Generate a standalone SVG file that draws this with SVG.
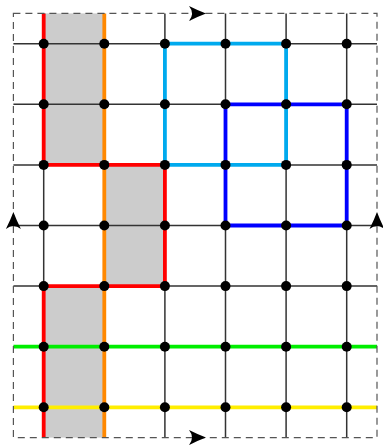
<svg xmlns="http://www.w3.org/2000/svg" width="383" height="445" viewBox="0 0 383 445">
<style>
.grid{stroke:#333;stroke-width:1.5;fill:none}
.c{fill:none;stroke-width:3.8;stroke-linecap:butt;stroke-linejoin:miter}
.dot{fill:#000}
.fill{fill:#cccccc;stroke:none}
.border{fill:none;stroke:#555;stroke-width:1.2;stroke-dasharray:7,5}
.arr{fill:#000}
</style>
<defs>
<path id="ah" d="M1,0 Q-7,-3 -16,-7.5 Q-10,0 -16,7.5 Q-7,3 1,0 Z"/>
<circle id="d" r="5"/>
</defs>
<g id="regions">
<rect class="fill" x="43.7" y="13.4" width="60.6" height="151.5"/>
<rect class="fill" x="104.3" y="164.9" width="60.6" height="121.2"/>
<rect class="fill" x="43.7" y="286.1" width="60.6" height="151.5"/>
</g>
<g id="connectors">
<g class="grid">
<path d="M13.4,43.7H377M13.4,104.3H377M13.4,164.9H377M13.4,225.5H377M13.4,286.1H377M13.4,346.7H377M13.4,407.3H377"/>
<path d="M43.7,13.4V437.6M104.3,13.4V437.6M164.9,13.4V437.6M225.5,13.4V437.6M286.1,13.4V437.6M346.7,13.4V437.6"/>
</g>
<path class="c" stroke="#ff8800" d="M104.3,13.4V437.6"/>
<path class="c" stroke="#ff0000" d="M43.7,13.4V164.9H164.9V286.1H43.7V437.6"/>
<path class="c" stroke="#00aaee" d="M164.9,43.7H286.1V164.9H164.9Z"/>
<path class="c" stroke="#0000ff" d="M225.5,104.3H346.7V225.5H225.5Z"/>
<path class="c" stroke="#00ee00" d="M13.4,346.7H377"/>
<path class="c" stroke="#ffee00" d="M13.4,407.3H377"/>
</g>
<g id="nodes" class="dot">
<use href="#d" x="43.7" y="43.7"/><use href="#d" x="104.3" y="43.7"/><use href="#d" x="164.9" y="43.7"/><use href="#d" x="225.5" y="43.7"/><use href="#d" x="286.1" y="43.7"/><use href="#d" x="346.7" y="43.7"/>
<use href="#d" x="43.7" y="104.3"/><use href="#d" x="104.3" y="104.3"/><use href="#d" x="164.9" y="104.3"/><use href="#d" x="225.5" y="104.3"/><use href="#d" x="286.1" y="104.3"/><use href="#d" x="346.7" y="104.3"/>
<use href="#d" x="43.7" y="164.9"/><use href="#d" x="104.3" y="164.9"/><use href="#d" x="164.9" y="164.9"/><use href="#d" x="225.5" y="164.9"/><use href="#d" x="286.1" y="164.9"/><use href="#d" x="346.7" y="164.9"/>
<use href="#d" x="43.7" y="225.5"/><use href="#d" x="104.3" y="225.5"/><use href="#d" x="164.9" y="225.5"/><use href="#d" x="225.5" y="225.5"/><use href="#d" x="286.1" y="225.5"/><use href="#d" x="346.7" y="225.5"/>
<use href="#d" x="43.7" y="286.1"/><use href="#d" x="104.3" y="286.1"/><use href="#d" x="164.9" y="286.1"/><use href="#d" x="225.5" y="286.1"/><use href="#d" x="286.1" y="286.1"/><use href="#d" x="346.7" y="286.1"/>
<use href="#d" x="43.7" y="346.7"/><use href="#d" x="104.3" y="346.7"/><use href="#d" x="164.9" y="346.7"/><use href="#d" x="225.5" y="346.7"/><use href="#d" x="286.1" y="346.7"/><use href="#d" x="346.7" y="346.7"/>
<use href="#d" x="43.7" y="407.3"/><use href="#d" x="104.3" y="407.3"/><use href="#d" x="164.9" y="407.3"/><use href="#d" x="225.5" y="407.3"/><use href="#d" x="286.1" y="407.3"/><use href="#d" x="346.7" y="407.3"/>
</g>
<g id="boundary">
<rect class="border" x="13.4" y="13.4" width="363.6" height="424.2"/>
<use href="#ah" class="arr" transform="translate(205,13.4)"/>
<use href="#ah" class="arr" transform="translate(205,437.6)"/>
<use href="#ah" class="arr" transform="translate(13.4,213) rotate(-90)"/>
<use href="#ah" class="arr" transform="translate(377,213) rotate(-90)"/>
</g>
</svg>
